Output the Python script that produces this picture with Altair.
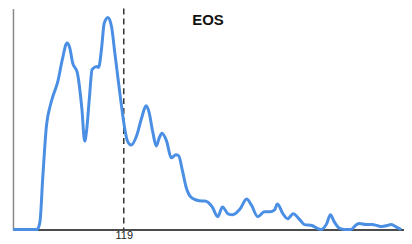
import altair as alt
import pandas as pd

days = [0, 26, 29, 32, 36, 40, 43, 48, 53, 58, 61, 64, 69, 74, 77, 79, 82, 85, 90, 92,
        95, 98, 102, 106, 109, 112, 116, 120, 123, 127, 133, 138, 143, 146, 150, 154, 157,
        160, 165, 170, 175, 178, 182, 186, 191, 197, 203, 206, 214, 220, 225, 231, 236, 244,
        251, 256, 263, 270, 276, 281, 284, 290, 295, 301, 308, 313, 321, 327, 331, 337, 341,
        345, 351, 356, 363, 369, 372, 379, 386, 391, 396, 402, 406, 411, 417]
values = [0, 0, 8, 53, 106, 126, 136, 150, 173, 190, 185, 170, 160, 123, 90, 100, 133, 163, 166, 165,
          183, 210, 216, 206, 183, 160, 130, 103, 90, 86, 96, 113, 126, 120, 100, 85, 93,
          98, 90, 73, 76, 75, 60, 43, 33, 30, 29, 29, 23, 13, 23, 16, 15, 21,
          31, 25, 13, 18, 18, 20, 26, 16, 11, 16, 10, 5, 4, 1, 0, 6, 15,
          8, 1, 0, 0, 5, 6, 5, 5, 4, 3, 4, 5, 3, 0]
threshold = [119]
title_text = "EOS"

df = pd.DataFrame({"day": days, "value": values})
rule_df = pd.DataFrame({"day": threshold})

x_scale = alt.Scale(domain=[0, 420], nice=False, zero=False)
y_scale = alt.Scale(domain=[0, 225], nice=False)

line = alt.Chart(df).mark_line(color="#4a8fe3", strokeWidth=3, interpolate="monotone").encode(
    x=alt.X("day:Q", scale=x_scale,
            axis=alt.Axis(values=threshold, ticks=False, grid=False, title="",
                          domainColor="#111111", domainWidth=1.5, labelFontSize=11,
                          labelColor="#222222", labelPadding=0, labelFont="Liberation Sans")),
    y=alt.Y("value:Q", scale=y_scale,
            axis=alt.Axis(labels=False, ticks=False, grid=False, title="",
                          domainColor="#888888", domainWidth=1.5)),
)

rule = alt.Chart(rule_df).mark_rule(color="#333333", strokeDash=[6, 4], strokeWidth=1.5).encode(
    x=alt.X("day:Q", scale=x_scale)
)

title = alt.Chart(pd.DataFrame({"t": [title_text]})).mark_text(
    fontSize=15, fontWeight="bold", font="Liberation Sans", color="#111111",
    align="center", baseline="middle"
).encode(text="t:N", x=alt.value(196), y=alt.value(11))

chart = alt.layer(rule, line, title).properties(
    width=393, height=222,
    autosize=alt.AutoSizeParams(type="none"),
    padding={"left": 5, "top": 0, "right": 0, "bottom": 14},
).configure_view(stroke=None)

chart.save("out.html", embed_options={"renderer": "svg", "actions": False})
